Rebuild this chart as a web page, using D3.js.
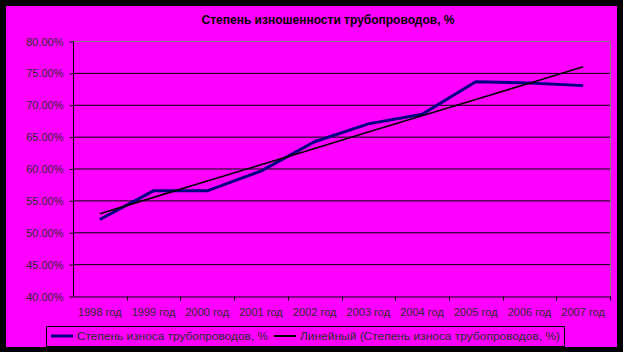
<!DOCTYPE html>
<html>
<head>
<meta charset="utf-8">
<script src="https://cdn.jsdelivr.net/npm/d3@7"></script>
<style>
  body { margin: 0; background: #000; }
  svg { display: block; }
  text { font-family: "Liberation Sans", Arial, sans-serif; }
</style>
</head>
<body>
<div id="chart"></div>
<script>
var years = ['1998 год', '1999 год', '2000 год', '2001 год', '2002 год',
             '2003 год', '2004 год', '2005 год', '2006 год', '2007 год'];
var wear = [52.0, 56.5, 56.5, 59.6, 64.2, 67.0, 68.5, 73.6, 73.4, 73.0];
var yTicks = [40, 45, 50, 55, 60, 65, 70, 75, 80];

var titleText = 'Степень изношенности трубопроводов, %';
var seriesName = 'Степень износа трубопроводов, %';
var trendName = 'Линейный (Степень износа трубопроводов, %)';

var svgWidth = 623;
var svgHeight = 352;
var plot = { left: 73, right: 610, top: 41, bottom: 296 };

var svg = d3.select('#chart')
  .append('svg')
  .attr('width', svgWidth)
  .attr('height', svgHeight);

// black frame + magenta chart area
svg.append('rect').attr('width', svgWidth).attr('height', svgHeight).attr('fill', '#000');
svg.append('rect')
  .attr('x', 6).attr('y', 6)
  .attr('width', 611).attr('height', 341)
  .attr('fill', '#ff00ff');

svg.append('text')
  .attr('x', 328).attr('y', 24)
  .attr('text-anchor', 'middle')
  .attr('font-size', 12)
  .attr('font-weight', 'bold')
  .attr('textLength', 253)
  .attr('lengthAdjust', 'spacingAndGlyphs')
  .attr('fill', '#000')
  .text(titleText);

var x = d3.scaleBand()
  .domain(years)
  .range([plot.left, plot.right]);

var y = d3.scaleLinear()
  .domain([40, 80])
  .range([plot.bottom, plot.top]);

// gridlines
svg.append('g')
  .selectAll('line')
  .data(yTicks.filter(function(d) { return d > 40 && d < 80; }))
  .enter()
  .append('line')
  .attr('x1', plot.left).attr('x2', plot.right)
  .attr('y1', function(d) { return y(d) + 0.5; })
  .attr('y2', function(d) { return y(d) + 0.5; })
  .attr('stroke', '#000')
  .attr('stroke-width', 1);

// gray top/right border
svg.append('path')
  .attr('d', 'M' + plot.left + ',' + (plot.top + 0.5) + 'H' + (plot.right + 0.5) + 'V' + plot.bottom)
  .attr('fill', 'none')
  .attr('stroke', '#808080');

var yAxis = svg.append('g')
  .attr('transform', 'translate(' + (plot.left + 0.5) + ',0.5)')
  .call(d3.axisLeft(y).tickValues(yTicks).tickSize(4).tickPadding(6)
    .tickFormat(function(d) { return d.toFixed(2) + '%'; }));

var xAxis = svg.append('g')
  .attr('transform', 'translate(0,' + (plot.bottom + 0.5) + ')')
  .call(d3.axisBottom(x).tickSize(0).tickPadding(12));

// ticks between categories
xAxis.selectAll('.sep')
  .data(years)
  .enter()
  .append('line')
  .attr('class', 'sep')
  .attr('x1', function(d) { return Math.round(x(d) + x.bandwidth()) + 0.5; })
  .attr('x2', function(d) { return Math.round(x(d) + x.bandwidth()) + 0.5; })
  .attr('y1', 0).attr('y2', 4)
  .attr('stroke', '#000');

[yAxis, xAxis].forEach(function(ax) {
  ax.select('.domain').attr('stroke', '#000');
  ax.selectAll('.tick line').attr('stroke', '#000');
  ax.selectAll('text')
    .attr('font-family', '"Liberation Sans", Arial, sans-serif')
    .attr('font-size', 11)
    .attr('fill', '#2b2b2b');
});
yAxis.select('.domain').attr('d', 'M0,' + plot.top + 'V' + plot.bottom);

// linear trend from the data
var n = wear.length;
var mx = d3.mean(wear, function(d, i) { return i; });
var my = d3.mean(wear);
var slope = d3.sum(wear, function(d, i) { return (i - mx) * (d - my); }) /
            d3.sum(wear, function(d, i) { return (i - mx) * (i - mx); });
var trend = wear.map(function(d, i) { return my + slope * (i - mx); });

var cx = function(d, i) { return x(years[i]) + x.bandwidth() / 2; };
var line = d3.line().x(cx).y(function(d) { return y(d); });

svg.append('path')
  .datum(wear)
  .attr('d', line)
  .attr('fill', 'none')
  .attr('stroke', '#000080')
  .attr('stroke-width', 3);

svg.append('path')
  .datum(trend)
  .attr('d', line)
  .attr('fill', 'none')
  .attr('stroke', '#000')
  .attr('stroke-width', 1.6);

// legend
var legend = svg.append('g');
legend.append('rect')
  .attr('x', 46.5).attr('y', 326.5)
  .attr('width', 518).attr('height', 20)
  .attr('fill', 'none')
  .attr('stroke', '#000');

var legendItems = [
  { name: seriesName, color: '#000080', x: 51, w: 3, len: 191 },
  { name: trendName, color: '#000', x: 274, w: 2, len: 260 }
];
var li = legend.selectAll('.item')
  .data(legendItems)
  .enter()
  .append('g')
  .attr('class', 'item')
  .attr('transform', function(d) { return 'translate(' + d.x + ',336)'; });
li.append('line')
  .attr('x1', 0).attr('x2', 22)
  .attr('stroke', function(d) { return d.color; })
  .attr('stroke-width', function(d) { return d.w; });
li.append('text')
  .attr('x', 26).attr('y', 4)
  .attr('font-size', 11)
  .attr('fill', '#2b2b2b')
  .attr('textLength', function(d) { return d.len; })
  .attr('lengthAdjust', 'spacingAndGlyphs')
  .text(function(d) { return d.name; });
</script>
</body>
</html>
